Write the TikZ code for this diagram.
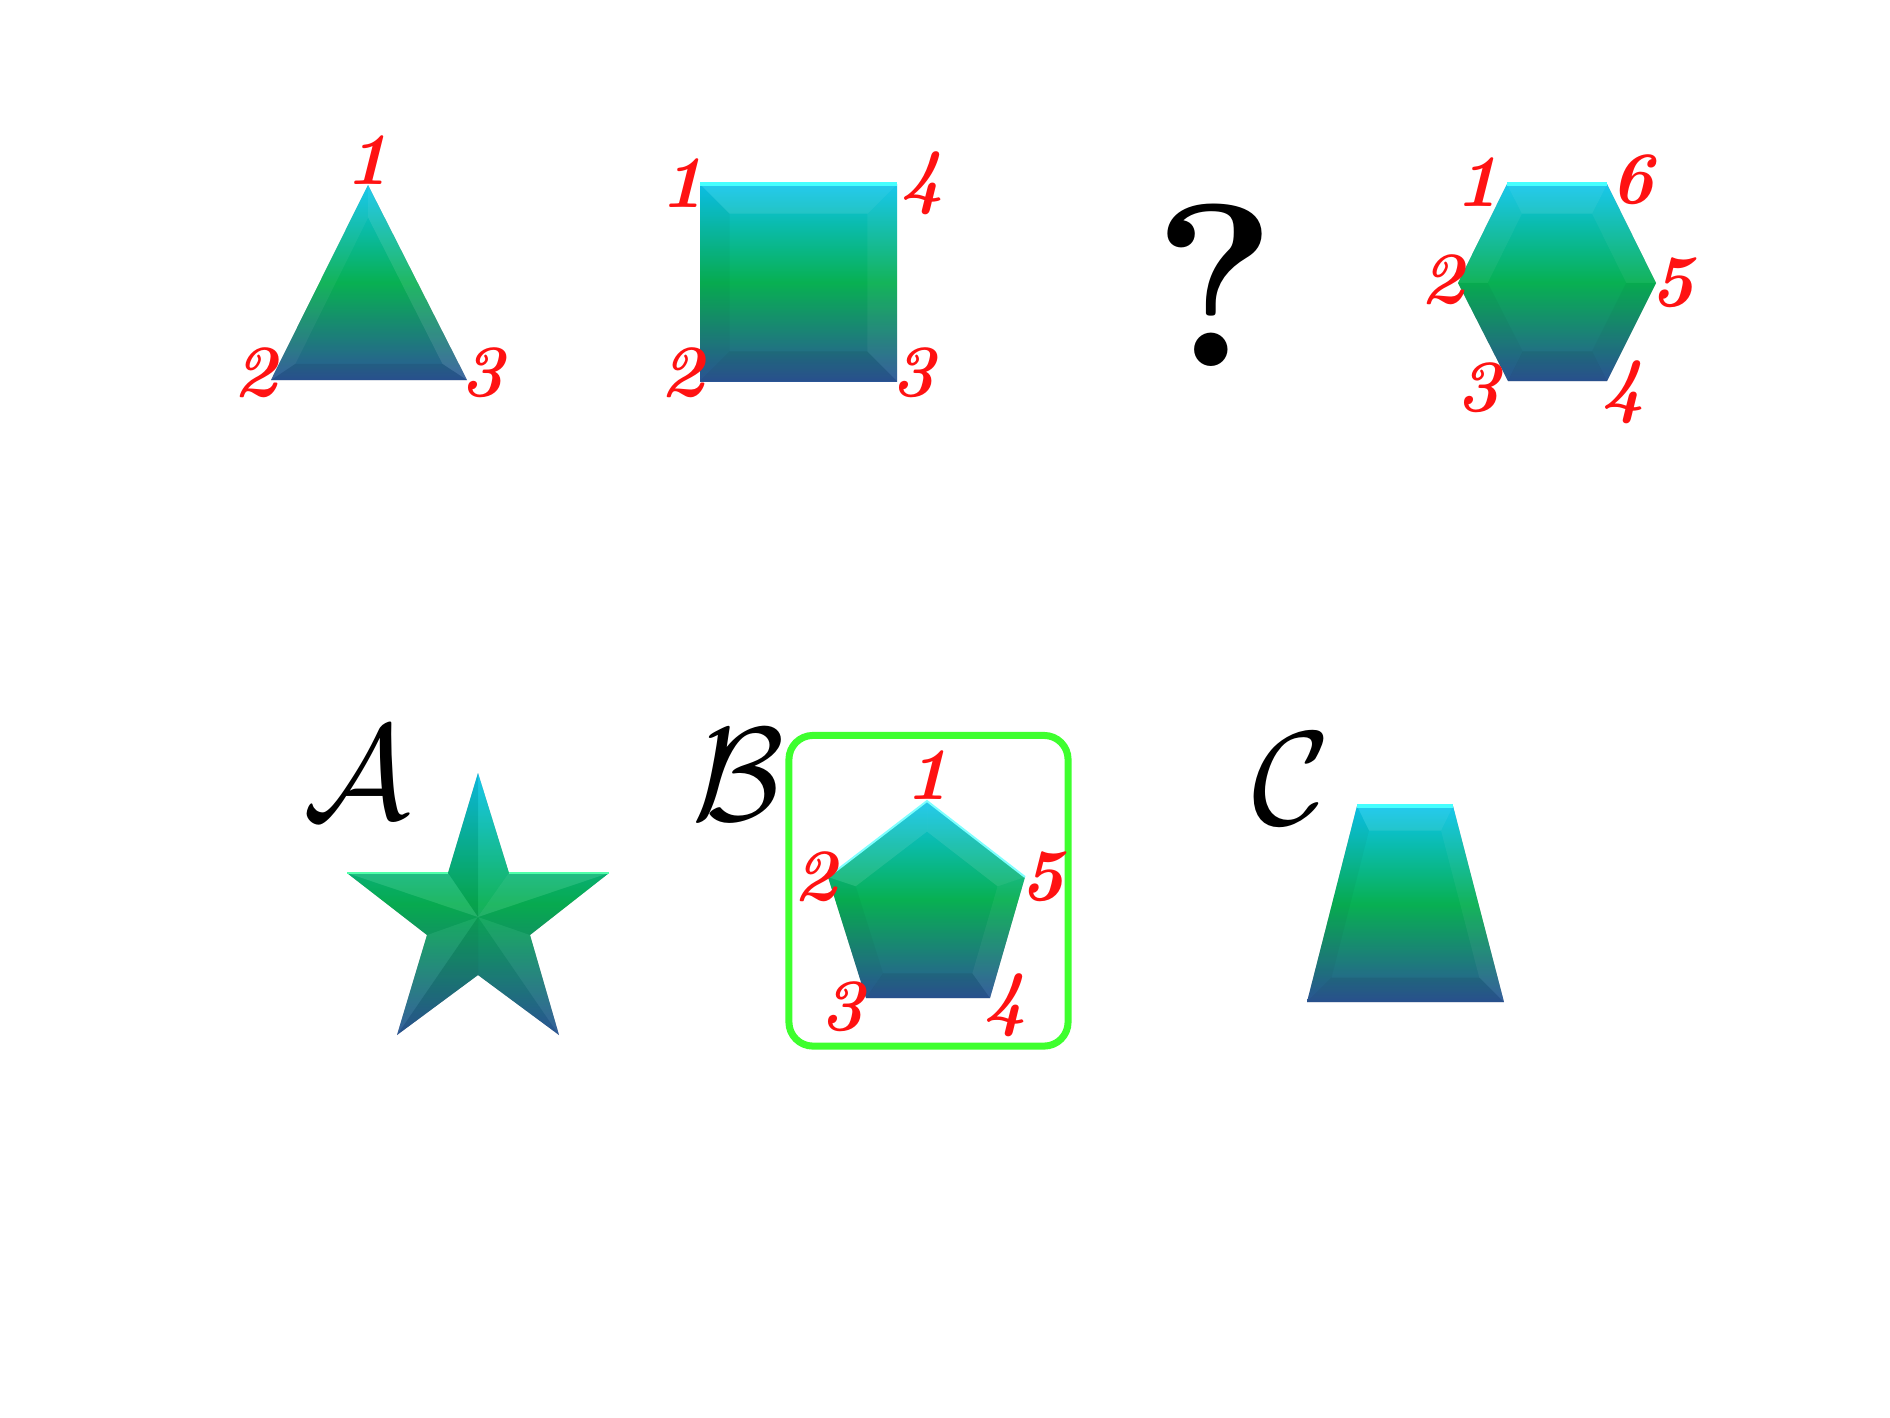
\RequirePackage{fix-cm}
\documentclass[tikz,border=0pt]{standalone}
\usetikzlibrary{calc}
\definecolor{gtop}{RGB}{12,196,236}
\definecolor{gmid}{RGB}{8,176,82}
\definecolor{gbot}{RGB}{44,86,152}
\definecolor{numred}{RGB}{255,18,18}
\definecolor{boxgreen}{RGB}{62,255,46}
\definecolor{hilite}{RGB}{70,255,255}
\definecolor{hiligreen}{RGB}{80,255,170}
\definecolor{shadowc}{RGB}{190,190,190}
\newcommand\bvf[5]{\fill[#5] (#1) -- (#2) -- ($(#2)!#4!(#3)$) -- ($(#1)!#4!(#3)$) -- cycle;}
\tikzset{
  shapefill/.style={top color=gtop, bottom color=gbot, middle color=gmid},
  shadowfill/.style={fill=shadowc, shift={(2,5)}},
  num/.style={text=numred, font=\fontsize{21}{25}\selectfont\bfseries\itshape, inner sep=0pt},
  letter/.style={inner sep=0pt, font=\fontsize{38}{40}\selectfont},
  upf/.style={fill=white, fill opacity=0.10},
  dnf/.style={fill=black, fill opacity=0.07},
  sidef/.style={fill=black, fill opacity=0.03},
  litef/.style={fill=white, fill opacity=0.05},
  topedge/.style={draw=hilite, line width=0.035cm},
  greenedge/.style={draw=hiligreen, line width=0.02cm},
}
\begin{document}
\begin{tikzpicture}[x=0.01cm, y=-0.01cm]
\useasboundingbox (0,0) rectangle (1890,1417);

% ---------- triangle ----------
\coordinate (t1) at (368,185);
\coordinate (t2) at (271,380);
\coordinate (t3) at (467,380);
\coordinate (tc) at (368.7,315);
\fill[shadowfill] (t1) -- (t2) -- (t3) -- cycle;
\shade[shapefill] (t1) -- (t2) -- (t3) -- cycle;
\bvf{t1}{t2}{tc}{0.25}{litef}
\bvf{t2}{t3}{tc}{0.25}{dnf}
\bvf{t3}{t1}{tc}{0.25}{upf}
\node[num] (tn1) at (367,160) {1};
\node[num] (tn2) at (255,373) {2};
\node[num] (tn3) at (482,373) {3};

% ---------- square ----------
\coordinate (s1) at (700,184);
\coordinate (s2) at (700,381);
\coordinate (s3) at (897,381);
\coordinate (s4) at (897,184);
\coordinate (sc) at (798.5,282.5);
\fill[shadowfill] (s1) -- (s2) -- (s3) -- (s4) -- cycle;
\shade[shapefill] (s1) -- (s2) -- (s3) -- (s4) -- cycle;
\bvf{s4}{s1}{sc}{0.3}{upf}
\bvf{s1}{s2}{sc}{0.3}{sidef}
\bvf{s2}{s3}{sc}{0.3}{dnf}
\bvf{s3}{s4}{sc}{0.3}{litef}
\draw[topedge] (s1) -- (s4);
\node[num] (sn1) at (682,183) {1};
\node[num] (sn4) at (922,183) {4};
\node[num] (sn2) at (682,373) {2};
\node[num] (sn3) at (913,373) {3};

% ---------- question mark ----------
\node[inner sep=0pt, font=\fontsize{66}{70}\selectfont\bfseries] (qm) at (1215,285) {?};

% ---------- hexagon ----------
\coordinate (h1) at (1507,184);
\coordinate (h2) at (1458,283);
\coordinate (h3) at (1508,381);
\coordinate (h4) at (1607,381);
\coordinate (h5) at (1656,283);
\coordinate (h6) at (1607,184);
\coordinate (hc) at (1557,282.5);
\fill[shadowfill] (h1) -- (h2) -- (h3) -- (h4) -- (h5) -- (h6) -- cycle;
\shade[shapefill] (h1) -- (h2) -- (h3) -- (h4) -- (h5) -- (h6) -- cycle;
\bvf{h6}{h1}{hc}{0.3}{upf}
\bvf{h1}{h2}{hc}{0.3}{litef}
\bvf{h2}{h3}{hc}{0.3}{sidef}
\bvf{h3}{h4}{hc}{0.3}{dnf}
\bvf{h4}{h5}{hc}{0.3}{sidef}
\bvf{h5}{h6}{hc}{0.3}{litef}
\draw[topedge] (h1) -- (h6);
\node[num] (hn1) at (1477,182) {1};
\node[num] (hn6) at (1632,180) {6};
\node[num] (hn2) at (1442,280) {2};
\node[num] (hn5) at (1672,283) {5};
\node[num] (hn3) at (1478,388) {3};
\node[num] (hn4) at (1623,392) {4};

% ---------- option A: star ----------
\node[letter] (la) at (357,773) {$\mathcal{A}$};
\coordinate (o1) at (478,773);
\coordinate (i1) at (448,873);
\coordinate (o2) at (347,873);
\coordinate (i2) at (427,935);
\coordinate (o3) at (397,1035);
\coordinate (i3) at (478,975);
\coordinate (o4) at (559,1035);
\coordinate (i4) at (530,935);
\coordinate (o5) at (609,873);
\coordinate (i5) at (509,873);
\coordinate (stc) at (478,917);
\fill[shadowfill] (o1) -- (i1) -- (o2) -- (i2) -- (o3) -- (i3) -- (o4) -- (i4) -- (o5) -- (i5) -- cycle;
\shade[shapefill] (o1) -- (i1) -- (o2) -- (i2) -- (o3) -- (i3) -- (o4) -- (i4) -- (o5) -- (i5) -- cycle;
\fill[dnf]   (stc) -- (o1) -- (i1) -- cycle;
\fill[upf]   (stc) -- (i1) -- (o2) -- cycle;
\fill[sidef] (stc) -- (o2) -- (i2) -- cycle;
\fill[litef] (stc) -- (i2) -- (o3) -- cycle;
\fill[dnf]   (stc) -- (o3) -- (i3) -- cycle;
\fill[sidef] (stc) -- (i3) -- (o4) -- cycle;
\fill[litef] (stc) -- (o4) -- (i4) -- cycle;
\fill[sidef] (stc) -- (i4) -- (o5) -- cycle;
\fill[upf]   (stc) -- (o5) -- (i5) -- cycle;
\fill[litef] (stc) -- (i5) -- (o1) -- cycle;
\draw[greenedge] (o2) -- (i1);
\draw[greenedge] (i5) -- (o5);

% ---------- option B: pentagon ----------
\node[letter] (lb) at (738,775) {$\mathcal{B}$};
\node[draw=boxgreen, line width=0.07cm, rounded corners=0.24cm,
      minimum width=2.79cm, minimum height=3.105cm, inner sep=0pt] (boxb) at (928.5,890.75) {};
\coordinate (p1) at (927,801);
\coordinate (p2) at (828,877);
\coordinate (p3) at (866,998);
\coordinate (p4) at (990,998);
\coordinate (p5) at (1025,877);
\coordinate (pc) at (927,910);
\fill[shadowfill] (p1) -- (p2) -- (p3) -- (p4) -- (p5) -- cycle;
\shade[shapefill] (p1) -- (p2) -- (p3) -- (p4) -- (p5) -- cycle;
\bvf{p1}{p2}{pc}{0.28}{upf}
\bvf{p2}{p3}{pc}{0.28}{sidef}
\bvf{p3}{p4}{pc}{0.28}{dnf}
\bvf{p4}{p5}{pc}{0.28}{litef}
\bvf{p5}{p1}{pc}{0.28}{upf}
\draw[topedge, draw=hilite!70!white, line width=0.02cm] (p2) -- (p1) -- (p5);
\node[num] (pn1) at (927,775) {1};
\node[num] (pn2) at (815,877) {2};
\node[num] (pn5) at (1042,877) {5};
\node[num] (pn3) at (842,1007) {3};
\node[num] (pn4) at (1005,1005) {4};

% ---------- option C: trapezoid ----------
\node[letter] (lc) at (1292,779) {$\mathcal{C}$};
\coordinate (q1) at (1357,806);
\coordinate (q2) at (1307,1002);
\coordinate (q3) at (1504,1002);
\coordinate (q4) at (1453,806);
\coordinate (qc) at (1405,904);
\fill[shadowfill] (q1) -- (q2) -- (q3) -- (q4) -- cycle;
\shade[shapefill] (q1) -- (q2) -- (q3) -- (q4) -- cycle;
\bvf{q4}{q1}{qc}{0.25}{upf}
\bvf{q1}{q2}{qc}{0.25}{sidef}
\bvf{q2}{q3}{qc}{0.25}{dnf}
\bvf{q3}{q4}{qc}{0.25}{litef}
\draw[topedge] (q1) -- (q4);
\end{tikzpicture}
\end{document}
